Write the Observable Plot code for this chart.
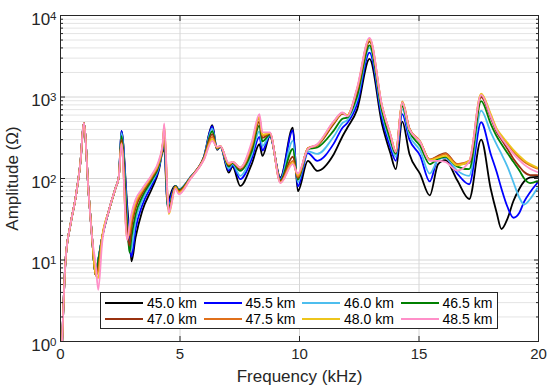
<!DOCTYPE html>
<html>
<head>
<meta charset="utf-8">
<script src="https://cdn.jsdelivr.net/npm/d3@7"></script>
<script src="https://cdn.jsdelivr.net/npm/@observablehq/plot@0.6"></script>
<style>
  body { margin: 0; background: #fff; }
  #wrap { position: relative; width: 550px; height: 387px; font-family: "Liberation Sans", Arial, sans-serif; }
  #legend { position: absolute; left: 100px; top: 292px; width: 396px; height: 35px; background: #fff;
            border: 1px solid #262626; font-size: 14px; color: #000; box-sizing: content-box; }
  #legend .row { display: flex; height: 16px; align-items: center; }
  #legend .row:first-child { margin-top: 2px; }
  #legend .item { display: flex; align-items: center; width: 98.5px; }
  #legend .swatch { width: 38px; height: 0; border-top: 2px solid; margin-left: 4px; }
  #legend .lab { margin-left: 4px; white-space: nowrap; }
</style>
</head>
<body>
<div id="wrap"></div>
<script>
// frequency grid (kHz)
const freq = [0.07,0.21,0.42,0.63,0.84,0.975,1.18,1.32,1.47,1.58,
  1.74,2.02,2.30,2.44,2.55,2.79,2.89,2.97,3.14,3.42,
  3.84,4.11,4.28,4.34,4.48,4.53,4.81,4.95,5.44,6.0,
  6.35,6.55,6.69,7.04,7.2,7.52,8.0,8.32,8.45,8.76,
  9.2,9.72,9.93,10.35,10.74,11.44,11.8,12.0,12.41,12.93,
  13.45,13.8,14.03,14.3,14.6,15.05,15.45,15.8,16.1,16.6,
  17.1,17.6,18.0,18.25,18.45,18.7,18.95,19.2,19.4,19.65,19.95];

// amplitudes (Ohm) per series
const a45_0 = [1.0,9.8,27.5,58,165,480,64,19,6.5,10,
  18.8,40,76,105,385,47,20,9.6,18.8,40,
  77,124,218,228,44,52,81,73,104,185,
  450,225,245,118,140,81,150,263,189,330,
  103,420,70,165,124,200,330,420,700,2930,
  470,205,130,500,200,113,62,150,168,95,
  56,300,75,38,24,32,53,75,92,103,105];
const a45_5 = [1.0,9.8,27.5,58,165,480,64,19,6.5,10,
  18.8,40,76,105,385,40,15,11,24,47,
  85,130,230,265,46,50,81,73,104,183,
  440,228,246,125,145,98,175,325,220,335,
  100,390,80,205,165,270,420,480,820,3500,
  550,240,165,615,300,190,92,175,180,115,
  85,490,200,120,75,45,33,38,52,68,88];
const a46_0 = [1.0,9.8,27.5,58,165,480,64,19,6.5,10,
  18.8,40,76,105,360,33,12.5,14,30,54,
  92,137,240,310,48,47,81,73,104,182,
  410,230,247,132,150,108,195,380,250,340,
  97,290,90,215,200,330,480,520,930,4000,
  620,275,185,710,340,220,115,170,180,125,
  108,680,370,260,200,140,90,58,48,56,76];
const a46_5 = [1.0,9.8,27.5,58,165,480,64,19,6.5,10,
  18.8,40,76,105,330,27,12.3,19,36,60,
  98,143,250,355,50,45,81,72,103,180,
  380,232,248,140,155,124,215,445,285,345,
  95,230,97,228,240,390,540,560,1030,4300,
  680,300,200,770,380,250,150,175,185,140,
  130,890,470,330,265,205,160,125,100,88,93];
const a47_0 = [1.0,9.8,27.5,58,165,480,64,19,6.5,8,
  18.8,40,76,105,300,22,15,25,43,66,
  104,150,260,400,55,42,80,70,102,178,
  350,235,249,145,158,130,240,500,315,355,
  93,185,102,235,255,470,620,600,1150,4800,
  760,340,210,850,410,280,170,190,205,150,
  155,1000,560,370,300,230,175,140,120,110,110];
const a47_5 = [1.0,9.8,27.5,58,165,480,64,19,6.5,7.5,
  18.8,40,76,105,275,19,21,30,48,70,
  108,155,265,430,58,40,79,68,101,175,
  325,238,250,150,160,135,255,555,335,360,
  90,165,105,235,260,500,640,600,1250,5200,
  780,350,215,880,410,285,170,185,200,150,
  165,1080,600,400,330,265,215,180,160,145,132];
const a48_0 = [1.0,9.8,27.5,58,165,480,64,19,6.8,6,
  18.8,40,76,105,270,18,25,34,52,72,
  111,158,270,450,60,36.5,78,66,100,172,
  305,240,250,150,160,136,262,575,345,362,
  89,155,110,232,260,495,635,600,1250,5100,
  780,350,215,870,400,280,168,180,190,145,
  165,1100,620,410,340,275,225,190,168,150,136];
const a48_5 = [1.0,9.8,27.5,58,165,480,64,19,9,4.3,
  16,40,76,105,265,17.6,27,37,55,75,
  114,165,280,473,62,38,75,64,99,170,
  290,245,250,155,160,136,280,618,370,368,
  88,150,115,230,263,510,645,580,1300,5300,
  790,350,210,860,400,280,165,165,160,125,
  160,1060,580,390,315,250,200,168,148,132,120];

const seriesNames = ["45.0 km","45.5 km","46.0 km","46.5 km","47.0 km","47.5 km","48.0 km","48.5 km"];
const seriesColors = ["#000000","#0000ff","#4dbeee","#008000","#99310f","#e0701b","#edc51c","#ff8fc8"];
const seriesValues = [a45_0,a45_5,a46_0,a46_5,a47_0,a47_5,a48_0,a48_5];

const xTicks = [0,5,10,15,20];
const yTicks = [1,10,100,1000,10000];
const yMinor = [];
for (let k = 0; k < 4; k++) for (let m = 2; m <= 9; m++) yMinor.push(m * Math.pow(10, k));

const data = seriesNames.flatMap((name, i) => freq.map((f, j) => ({f, a: seriesValues[i][j], s: name})));

const axisColor = "#262626";
const chart = Plot.plot({
  width: 550, height: 387,
  marginLeft: 60, marginRight: 12, marginTop: 15, marginBottom: 46,
  style: {fontFamily: "Liberation Sans, Arial, sans-serif", fontSize: "15px", color: axisColor, background: "#fff"},
  x: {domain: [0, 20]},
  y: {type: "log", domain: [1, 10000]},
  color: {domain: seriesNames, range: seriesColors},
  marks: [
    Plot.ruleY(yMinor, {stroke: "#e4e4e4", strokeWidth: 1}),
    Plot.ruleY(yTicks.slice(1, -1), {stroke: "#d6d6d6", strokeWidth: 1}),
    Plot.ruleX(xTicks.slice(1, -1), {stroke: "#d6d6d6", strokeWidth: 1}),
    Plot.line(data, {x: "f", y: "a", z: "s", stroke: "s", strokeWidth: 1.8, curve: "monotone-x", clip: true}),
    Plot.frame({stroke: axisColor, strokeWidth: 1}),
    // inward ticks
    Plot.axisX({anchor: "bottom", ticks: xTicks, tickSize: 5, dy: -5, tickFormat: () => "", label: null}),
    Plot.axisX({anchor: "top", ticks: xTicks, tickSize: 5, dy: 5, tickFormat: () => "", label: null}),
    Plot.axisY({anchor: "left", ticks: yTicks, tickSize: 5, dx: 5, tickFormat: () => "", label: null}),
    Plot.axisY({anchor: "right", ticks: yTicks, tickSize: 5, dx: -5, tickFormat: () => "", label: null}),
    Plot.axisY({anchor: "left", ticks: yMinor, tickSize: 3, dx: 3, tickFormat: () => "", label: null}),
    Plot.axisY({anchor: "right", ticks: yMinor, tickSize: 3, dx: -3, tickFormat: () => "", label: null}),
    // labels
    Plot.axisX({anchor: "bottom", ticks: xTicks, tickSize: 0, tickPadding: 7, fontSize: 15,
      label: "Frequency (kHz)", labelAnchor: "center", labelArrow: "none", labelOffset: 40}),
    Plot.axisY({anchor: "left", ticks: yTicks, tickSize: 0, tickPadding: 4, dy: 4, fontSize: 17,
      tickFormat: d => "10^" + Math.round(Math.log10(d)),
      label: "Amplitude (Ω)", labelAnchor: "center", labelArrow: "none", labelOffset: 55})
  ]
});

// superscript exponents on the log axis labels
d3.select(chart).selectAll("text").each(function() {
  const t = this.textContent;
  if (/^10\^\d$/.test(t)) {
    const [base, exp] = t.split("^");
    const sel = d3.select(this);
    sel.text(base);
    sel.append("tspan").attr("dy", "-0.45em").attr("font-size", "11.5px").text(exp);
  }
  if (t === "Frequency (kHz)" || t === "Amplitude (Ω)") d3.select(this).attr("font-size", "17px");
});

const wrap = document.getElementById("wrap");
wrap.appendChild(chart);

// legend
const legend = document.createElement("div");
legend.id = "legend";
for (let r = 0; r < 2; r++) {
  const row = document.createElement("div");
  row.className = "row";
  for (let c = 0; c < 4; c++) {
    const i = r * 4 + c;
    const item = document.createElement("div");
    item.className = "item";
    const sw = document.createElement("span");
    sw.className = "swatch";
    sw.style.borderTopColor = seriesColors[i];
    const lab = document.createElement("span");
    lab.className = "lab";
    lab.textContent = seriesNames[i];
    item.appendChild(sw); item.appendChild(lab);
    row.appendChild(item);
  }
  legend.appendChild(row);
}
wrap.appendChild(legend);
</script>
</body>
</html>
